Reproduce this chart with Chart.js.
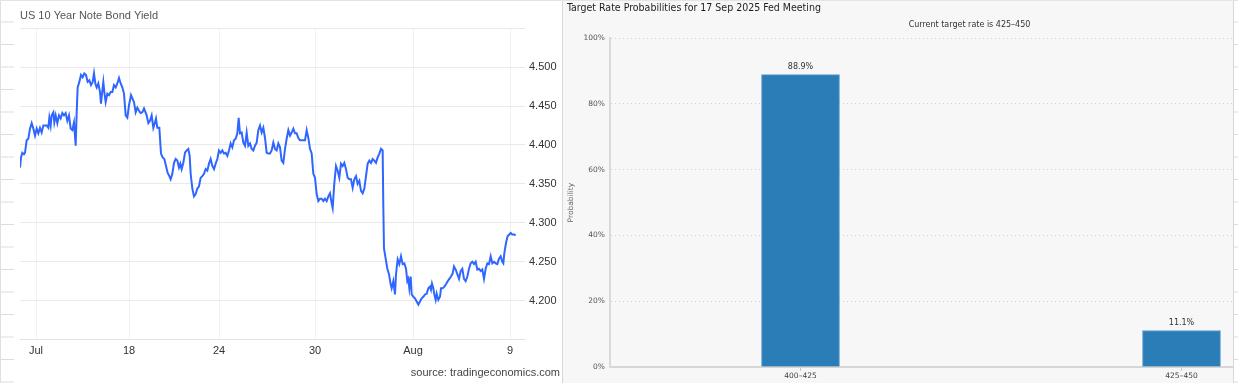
<!DOCTYPE html>
<html>
<head>
<meta charset="utf-8">
<script src="https://cdn.jsdelivr.net/npm/chart.js@4.4.1/dist/chart.umd.min.js"></script>
<style>
  html, body { margin: 0; padding: 0; }
  body { width: 1238px; height: 383px; overflow: hidden; position: relative; background: #fff; font-family: "Liberation Sans", Arial, sans-serif; }
  #topline { position: absolute; left: 0; top: 0; width: 1238px; height: 1px; background: #e4e4e4; }
  #leftStrip { position: absolute; left: 0; top: 0; width: 13px; height: 383px; border-left: 1px solid #e0e0e0;
    background: repeating-linear-gradient(to bottom, transparent 0, transparent 22px, #dcdcdc 22px, #dcdcdc 23px); background-size: 100% 22.5px; }
  #left { position: absolute; left: 0; top: 0; width: 560px; height: 383px; }
  #right { position: absolute; left: 562px; top: 0; width: 671px; height: 383px; overflow: hidden; border-left: 1px solid #d8d8d8; background: #f7f7f7; }
  #right canvas { position: absolute; left: 0; top: 0; }
  #rightStrip { position: absolute; left: 1233px; top: 0; width: 5px; height: 383px; border-left: 1px solid #d8d8d8; background-color: #fff;
    background-image: repeating-linear-gradient(to bottom, transparent 0, transparent 22px, #dcdcdc 22px, #dcdcdc 23px); background-size: 100% 22.5px; }
</style>
</head>
<body>
<div id="left"><canvas id="yield" width="560" height="383"></canvas></div>
<div id="leftStrip"></div>
<div id="right"><canvas id="fed" width="816" height="383"></canvas></div>
<div id="rightStrip"></div>
<div id="topline"></div>
<script>
// US 10Y yield, x = trading hours from the start of the window
var hours = [
  0,1.5,3.5,6,7.5,10,12.5,15,17.5,20,
  22.5,25,27.5,30,32.5,35,37.5,40,42.5,44,
  46,47.5,50,51.5,53.5,56,58.5,61,63.5,66,
  68.5,71,73.5,76,78.5,81,83.5,85,86.5,89,
  91.5,94,96.5,99,101.5,104,106.5,109,111,113,
  115,117.5,120,121.5,123.5,125,126.5,128.5,131,133.5,
  136,138.5,141,143.5,146,148.5,151,153.5,156,158.5,
  161,163.5,166.5,168.5,171,173.5,176,178.5,181,183.5,186,
  190,192.5,195,197.5,200,202.5,204,206,209,
  211.5,214,216.5,219,221.5,224,226,228.5,231,233.5,
  236,238.5,240.5,242.5,245,247.5,250,252.5,254.5,256,
  258.5,261,263.5,266,268.5,271,273.5,276,278.5,281,
  283.5,286,288.5,291,293.5,296,298.5,301,303.5,306,
  308.5,311,313.5,316,318.5,321,323.5,326,328,330,
  332.5,335,337.5,340,342.5,345,347.5,350,352.5,355,
  357.5,360,362.5,365,367.5,370,372.5,375,
  377.5,380,382.5,385,387.5,390,392.5,395,397.5,400,402.5,405,
  407.5,410,412.5,415,417.5,420,422.5,425,427.5,430,
  432.5,435,437.5,440,442.5,445,447.5,450,452.5,455,
  457.5,460,462.5,465,467.5,469,471.5,474,476.5,479,
  481.5,484,486.5,489,491.5,494,496.5,499,501.5,504,
  506.5,509,511.5,514,516.5,519,521.5,524,526.5,529,
  531.5,534,536.5,539,541.5,544,
  545,546,548.5,551,
  553.5,556,557.5,560,562.5,564,566.5,569,571.5,574,
  576.5,579,581,582.5,584,586,587.5,590,592.5,595,
  597.5,600,602.5,605,607.5,610,612.5,615,616.5,618,
  620,621.5,623.5,625,627.5,630,631.5,634,636.5,639,
  641.5,644,646.5,649,651,653.5,656,658.5,661,663.5,
  666,668.5,671,673.5,676,678.5,681,683.5,686,688.5,
  691,693.5,696,698.5,701,703.5,706,708.5,711,713.5,
  716,718.5,721,723.5,725,726.5,729,731.5,734,736,738.5,741,743.5
];
var yields = [
  4.371,4.384,4.390,4.388,4.390,4.406,4.408,4.421,4.428,4.421,
  4.412,4.421,4.415,4.422,4.416,4.425,4.425,4.425,4.422,4.435,
  4.425,4.438,4.442,4.429,4.438,4.428,4.438,4.434,4.441,4.438,
  4.441,4.431,4.438,4.421,4.419,4.429,4.399,4.441,4.474,4.481,
  4.490,4.487,4.492,4.490,4.481,4.483,4.477,4.481,4.492,4.479,
  4.474,4.479,4.468,4.453,4.470,4.481,4.468,4.455,4.466,4.464,
  4.468,4.468,4.477,4.474,4.479,4.486,4.479,4.474,4.466,4.438,
  4.435,4.451,4.464,4.460,4.455,4.442,4.448,4.444,4.441,4.442,4.447,
  4.438,4.428,4.431,4.438,4.422,4.429,4.434,4.422,4.422,
  4.389,4.384,4.382,4.373,4.364,4.360,4.356,4.363,4.377,4.382,
  4.380,4.371,4.376,4.369,4.377,4.390,4.393,4.395,4.386,4.363,
  4.344,4.334,4.337,4.344,4.347,4.358,4.360,4.363,4.369,4.367,
  4.376,4.382,4.373,4.369,4.376,4.382,4.393,4.390,4.393,4.389,
  4.390,4.386,4.393,4.402,4.397,4.406,4.408,4.415,4.435,4.415,
  4.416,4.403,4.399,4.416,4.399,4.402,4.395,4.393,4.399,4.403,
  4.419,4.425,4.416,4.422,4.409,4.390,4.389,4.389,
  4.393,4.403,4.395,4.393,4.402,4.397,4.380,4.377,4.395,4.408,4.419,4.412,
  4.416,4.421,4.415,4.415,4.409,4.406,4.406,4.406,4.406,4.419,
  4.409,4.395,4.389,4.363,4.358,4.337,4.328,4.331,4.331,4.328,
  4.331,4.328,4.334,4.338,4.325,4.319,4.351,4.373,4.367,4.358,
  4.376,4.373,4.377,4.369,4.358,4.356,4.356,4.345,4.356,4.360,
  4.350,4.354,4.341,4.338,4.344,4.360,4.376,4.380,4.377,4.382,
  4.380,4.377,4.384,4.389,4.395,4.393,
  4.319,4.267,4.254,4.241,
  4.234,4.221,4.216,4.225,4.208,4.234,4.253,4.247,4.257,4.247,
  4.248,4.241,4.225,4.228,4.216,4.231,4.208,4.205,4.203,4.199,
  4.195,4.199,4.203,4.205,4.208,4.209,4.216,4.218,4.214,4.222,
  4.216,4.208,4.201,4.209,4.201,4.205,4.216,4.216,4.218,4.221,
  4.225,4.228,4.231,4.235,4.244,4.240,4.234,4.228,4.238,4.241,
  4.228,4.225,4.231,4.241,4.248,4.250,4.247,4.250,4.240,4.241,
  4.238,4.240,4.228,4.241,4.248,4.247,4.257,4.248,4.250,4.248,
  4.247,4.254,4.257,4.250,4.248,4.261,4.274,4.283,4.285,4.287,4.285,4.285,4.284
];
var tickHours  = [24, 163.5, 298.5, 442.5, 589.5, 735];
var tickLabels = ['Jul', '18', '24', '30', 'Aug', '9'];

// Fed target rate probabilities
var rateBuckets   = ['400\u2013425', '425\u2013450'];
var probabilities = [88.9, 11.1];

var sans = 'Liberation Sans, Arial, sans-serif';

var yieldPoints = [];
for (var i = 0; i < hours.length; ++i)
    yieldPoints.push({x: hours[i], y: yields[i]});

var yieldChart = new Chart(document.getElementById('yield'), {
    type: 'line',
    data: {
        datasets: [{
            data: yieldPoints,
            borderColor: '#2f66ff',
            borderWidth: 2,
            pointRadius: 0,
            tension: 0
        }]
    },
    options: {
        responsive: false,
        animation: false,
        layout: {padding: {left: 20, right: 0, top: 0, bottom: 0}},
        plugins: {
            legend: {display: false},
            tooltip: {enabled: false},
            title: {
                display: true, text: 'US 10 Year Note Bond Yield', align: 'start', color: '#555',
                font: {family: sans, size: 11, weight: 'normal'}, padding: {top: 9, bottom: 6}
            },
            subtitle: {
                display: true, position: 'bottom', align: 'end', text: 'source: tradingeconomics.com', color: '#444',
                font: {family: sans, size: 11}, padding: {top: 4, bottom: 3}
            }
        },
        scales: {
            x: {
                type: 'linear', min: 0, max: 757.5,
                afterBuildTicks: function (scale) {
                    scale.ticks = tickHours.map(function (h) { return {value: h}; });
                },
                ticks: {
                    autoSkip: false, maxRotation: 0, padding: 5, color: '#333',
                    font: {family: sans, size: 11},
                    callback: function (v, idx) { return tickLabels[idx]; }
                },
                grid: {color: '#eef1f4', drawTicks: false},
                border: {color: '#e2e2e2'}
            },
            y: {
                position: 'right', min: 4.15, max: 4.55,
                afterFit: function (scale) { scale.width = 35; },
                ticks: {
                    stepSize: 0.05, padding: 4, color: '#333',
                    font: {family: sans, size: 11},
                    callback: function (v) {
                        if (v < 4.19 || v > 4.51) return '';
                        return v.toFixed(3);
                    }
                },
                grid: {color: '#e9e9e9', drawTicks: false},
                border: {display: false}
            }
        }
    }
});

// value labels above the bars
var barLabels = {
    id: 'barLabels',
    afterDatasetsDraw: function (chart) {
        var ctx = chart.ctx;
        var meta = chart.getDatasetMeta(0);
        ctx.save();
        ctx.font = '8px "DejaVu Sans", sans-serif';
        ctx.fillStyle = '#333';
        ctx.textAlign = 'center';
        ctx.textBaseline = 'bottom';
        meta.data.forEach(function (bar, k) {
            ctx.fillText(probabilities[k].toFixed(1) + '%', bar.x, bar.y - 4);
        });
        ctx.restore();
    }
};

var small = {family: '"DejaVu Sans", sans-serif', size: 7.5};

var fedChart = new Chart(document.getElementById('fed'), {
    type: 'bar',
    data: {
        labels: rateBuckets,
        datasets: [{
            data: probabilities,
            backgroundColor: '#2b7db8',
            borderColor: '#5f9bcb',
            borderWidth: 1,
            barThickness: 78
        }]
    },
    plugins: [barLabels],
    options: {
        responsive: false,
        animation: false,
        layout: {padding: {left: 4, right: 7, top: 0, bottom: 0}},
        plugins: {
            legend: {display: false},
            tooltip: {enabled: false},
            title: {
                display: true, text: 'Target Rate Probabilities for 17 Sep 2025 Fed Meeting', align: 'start', color: '#1e1e1e',
                font: {family: '"DejaVu Sans Condensed", sans-serif', size: 10.5, weight: 'normal'},
                padding: {top: 2, bottom: 3}
            },
            subtitle: {
                display: true, text: 'Current target rate is 425\u2013450', color: '#333',
                font: {family: '"DejaVu Sans", sans-serif', size: 8}, padding: {top: 3, bottom: 8}
            }
        },
        scales: {
            x: {
                afterFit: function (scale) { scale.height = 16; },
                ticks: {color: '#444', font: small, padding: 1},
                grid: {offset: false, drawOnChartArea: false, drawTicks: true, tickLength: 4, color: '#c8c8c8'},
                border: {color: '#d6d6d6', width: 2}
            },
            y: {
                min: 0, max: 100,
                afterFit: function (scale) { scale.width = 43; },
                ticks: {
                    stepSize: 20, color: '#555', font: small, padding: 5,
                    callback: function (v) { return v + '%'; }
                },
                title: {display: true, text: 'Probability', color: '#666', font: small, padding: {top: 0, bottom: 6}},
                grid: {color: '#cfcfcf', drawTicks: false},
                border: {display: true, color: '#dadada', width: 2, dash: [1, 3]}
            }
        }
    }
});
</script>
</body>
</html>
